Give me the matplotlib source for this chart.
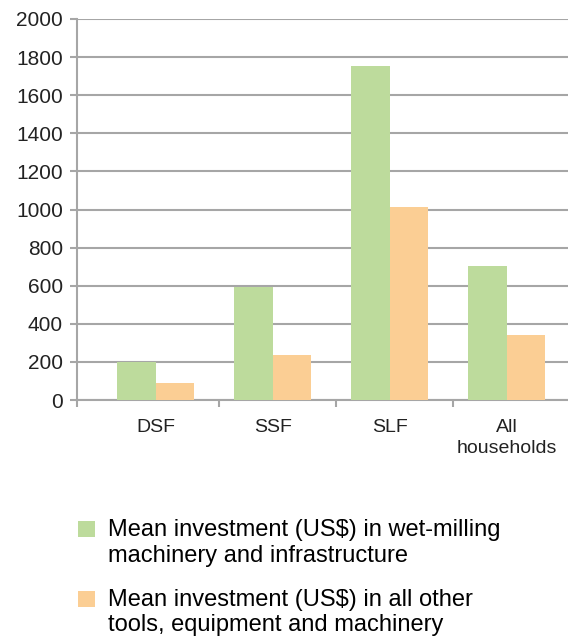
import numpy as np
import matplotlib
matplotlib.use("Agg")
from matplotlib import pyplot as plt
from matplotlib.patches import Patch, Rectangle
from matplotlib.legend_handler import HandlerPatch

# Data
categories = ["DSF", "SSF", "SLF", "All\nhouseholds"]
wet_milling = [200, 595, 1753, 703]
other_tools = [88, 236, 1013, 341]
series_labels = [
    "Mean investment (US$) in wet-milling\nmachinery and infrastructure",
    "Mean investment (US$) in all other\ntools, equipment and machinery",
]
yticks = [0, 200, 400, 600, 800, 1000, 1200, 1400, 1600, 1800, 2000]

green = "#BDDB9C"
orange = "#FBCE94"
grid_gray = "#A6A6A6"

plt.rcParams["font.family"] = ["Liberation Sans", "DejaVu Sans"]


def top_square(legend, orig_handle, xdescent, ydescent, width, height, fontsize):
    # square sits next to the first line of a two-line label
    return Rectangle((-xdescent, -ydescent + 0.6 * fontsize), width, height)


fig = plt.figure(figsize=(5.68, 6.4), dpi=100)
ax = fig.add_axes([77 / 568, 1 - 400 / 640, 1 - 77 / 568, (400 - 19) / 640])

x = np.arange(len(categories))
bw = 38.5 / 117
ax.bar(x - bw / 2, wet_milling, width=bw, color=green, zorder=3)
ax.bar(x + bw / 2, other_tools, width=bw, color=orange, zorder=3)

ax.set_ylim(0, 2000)
ax.set_xlim(-0.673, 3.524)
ax.set_yticks(yticks)
ax.set_yticklabels([str(v) for v in yticks], fontsize=15, color="#222222")
ax.yaxis.grid(True, color=grid_gray, linewidth=1.5, zorder=0)
ax.tick_params(axis="y", length=5, width=1.5, color=grid_gray, pad=5)

ax.set_xticks(x)
ax.set_xticklabels(categories, fontsize=14, color="#222222", linespacing=1.25)
ax.tick_params(axis="x", which="major", length=0, pad=14)
ax.set_xticks([-0.673, 0.54, 1.54, 2.54], minor=True)
ax.tick_params(axis="x", which="minor", length=5, width=1.5, color=grid_gray)

for s in ["top", "right"]:
    ax.spines[s].set_visible(False)
for s in ["left", "bottom"]:
    ax.spines[s].set_color(grid_gray)
    ax.spines[s].set_linewidth(1.5)

handles = [Patch(facecolor=green), Patch(facecolor=orange)]
fig.legend(handles, series_labels, loc="upper left",
           bbox_to_anchor=(57 / 568, 1 - 498 / 640), frameon=False,
           fontsize=17, handlelength=0.7, handleheight=0.7,
           handletextpad=0.55, labelspacing=0.95,
           handler_map={Patch: HandlerPatch(patch_func=top_square)})

fig.savefig("out.png", dpi=100)
